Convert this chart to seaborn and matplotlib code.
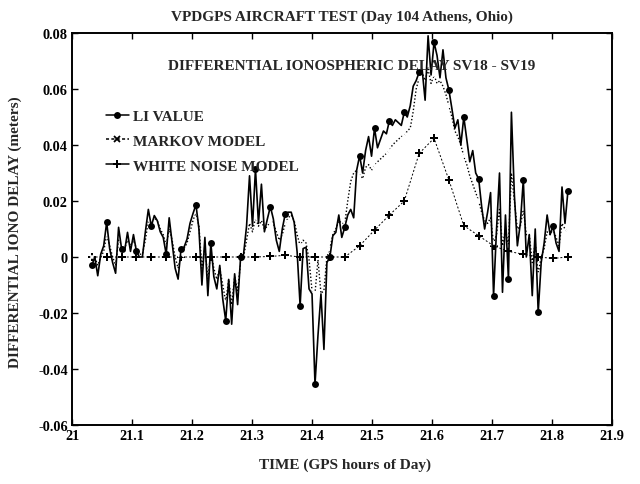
import numpy as np
import pandas as pd
import matplotlib
matplotlib.use("Agg")
import matplotlib.pyplot as plt
from matplotlib.lines import Line2D
import seaborn as sns

# Sampling of the series (GPS hours of day); a marker sits on every 5th sample
t_start = 21.033
t_step = 0.00496
marker_step = 5

# L1 differential ionospheric delay (meters)
li_value = [
    -0.003, 0.0, -0.0067, 0.001, 0.004, 0.0124, 0.003, -0.002, -0.0058, 0.0106,
    0.003, 0.002, 0.0088, 0.002, 0.008, 0.002, 0.0, 0.0, 0.009, 0.017,
    0.011, 0.0148, 0.013, 0.009, 0.007, 0.001, 0.014, 0.005, -0.004, -0.0079,
    0.003, 0.0035, 0.0064, 0.012, 0.0155, 0.0187, 0.010, -0.010, 0.007, -0.0138,
    0.005, -0.007, -0.0114, -0.003, -0.015, -0.0227, -0.008, -0.024, -0.006, -0.017,
    0.0, 0.001, 0.011, 0.029, 0.011, 0.0314, 0.012, 0.026, 0.009, 0.0136,
    0.018, 0.0136, 0.006, 0.002, 0.010, 0.0154, 0.016, 0.016, 0.0124, 0.0017,
    -0.0174, 0.003, 0.0035, -0.0114, -0.0132, -0.0454, -0.028, -0.0132, -0.033, -0.002,
    0.0, 0.0076, 0.0088, 0.015, 0.007, 0.0106, 0.015, 0.017, 0.014, 0.031,
    0.0362, 0.030, 0.038, 0.043, 0.036, 0.046, 0.039, 0.042, 0.045, 0.044,
    0.0487, 0.047, 0.049, 0.048, 0.047, 0.0517, 0.050, 0.054, 0.061, 0.063,
    0.066, 0.067, 0.056, 0.079, 0.065, 0.0767, 0.072, 0.064, 0.074, 0.064,
    0.0596, 0.053, 0.046, 0.049, 0.040, 0.050, 0.042, 0.034, 0.038, 0.030,
    0.0279, 0.018, 0.010, 0.016, 0.023, -0.0138, 0.010, 0.030, -0.0126, 0.015,
    -0.008, 0.0517, 0.022, 0.004, 0.012, 0.0276, 0.0, 0.008, -0.0138, 0.010,
    -0.0198, -0.002, 0.005, 0.015, 0.008, 0.011, 0.005, 0.002, 0.025, 0.012,
    0.0237,
]

# Markov (first-order Gauss-Markov) model estimate (meters)
markov_model = [
    0.0, 0.0, -0.003, 0.0, 0.002, 0.008, 0.004, 0.0, -0.003, 0.006,
    0.004, 0.003, 0.006, 0.004, 0.006, 0.003, 0.001, 0.001, 0.006, 0.013,
    0.012, 0.014, 0.013, 0.010, 0.008, 0.004, 0.010, 0.006, 0.0, -0.004,
    0.001, 0.003, 0.005, 0.009, 0.013, 0.016, 0.011, -0.004, 0.004, -0.008,
    0.002, -0.004, -0.008, -0.004, -0.010, -0.016, -0.008, -0.017, -0.007, -0.012,
    -0.002, 0.0, 0.006, 0.012, 0.009, 0.014, 0.011, 0.013, 0.010, 0.011,
    0.013, 0.012, 0.009, 0.006, 0.008, 0.012, 0.014, 0.015, 0.013, 0.008,
    0.004, 0.006, 0.005, -0.001, -0.012, -0.013, -0.001, -0.013, -0.012, 0.0,
    0.003, 0.008, 0.010, 0.013, 0.012, 0.012, 0.020, 0.027, 0.030, 0.031,
    0.030, 0.028, 0.032, 0.033, 0.031, 0.0326, 0.034, 0.035, 0.036, 0.037,
    0.038, 0.040, 0.041, 0.042, 0.043, 0.0433, 0.045, 0.046, 0.052, 0.060,
    0.064, 0.066, 0.063, 0.067, 0.062, 0.065, 0.062, 0.063, 0.061, 0.058,
    0.054, 0.050, 0.045, 0.043, 0.040, 0.036, 0.033, 0.029, 0.026, 0.023,
    0.020, 0.016, 0.013, 0.012, 0.014, 0.005, 0.008, 0.017, 0.004, 0.010,
    0.004, 0.030, 0.020, 0.010, 0.011, 0.017, 0.008, 0.008, -0.002, 0.005,
    -0.006, 0.0, 0.003, 0.009, 0.008, 0.010, 0.007, 0.004, 0.012, 0.010,
    0.0088,
]

# White noise model estimate (meters), one value per marker sample
white_noise_model = [
    0.0, 0.0, 0.0, 0.0, 0.0, 0.0, 0.0, 0.0, 0.0, 0.0,
    0.0, 0.0, 0.0002, 0.0006, 0.0, 0.0, 0.0, 0.0, 0.004, 0.0096,
    0.015, 0.020, 0.037, 0.0424, 0.0275, 0.0112, 0.0076, 0.004, 0.002, 0.001,
    0.0, -0.0005, 0.0,
]

x_ticks = [21.0, 21.1, 21.2, 21.3, 21.4, 21.5, 21.6, 21.7, 21.8, 21.9]
x_tick_labels = ["21", "21.1", "21.2", "21.3", "21.4", "21.5", "21.6", "21.7", "21.8", "21.9"]
y_ticks = [-0.06, -0.04, -0.02, 0.0, 0.02, 0.04, 0.06, 0.08]
y_tick_labels = ["-0.06", "-0.04", "-0.02", "0", "0.02", "0.04", "0.06", "0.08"]

sns.set_theme(style="ticks")
plt.rcParams["font.family"] = ["Liberation Serif", "DejaVu Serif"]
plt.rcParams["font.weight"] = "bold"
plt.rcParams["axes.labelweight"] = "bold"

time = t_start + t_step * np.arange(len(li_value))
fine = pd.DataFrame({"time": time, "li": li_value, "markov": markov_model})
coarse = pd.DataFrame({"time": time[::marker_step], "white": white_noise_model})

fig = plt.figure(figsize=(6.4, 4.85), dpi=100)
ax = fig.add_axes([72 / 640, 1 - 426 / 485, 540 / 640, 392 / 485])

sns.lineplot(data=coarse, x="time", y="white", ax=ax, color="black", lw=0.7,
             linestyle=(0, (2, 2)), marker="P", markersize=5.5, markeredgewidth=0,
             estimator=None, sort=False)
sns.lineplot(data=fine, x="time", y="markov", ax=ax, color="black", lw=1.0,
             linestyle=(0, (1, 1.5)), marker="x", markersize=4, markeredgewidth=1.3,
             markevery=marker_step, estimator=None, sort=False)
sns.lineplot(data=fine, x="time", y="li", ax=ax, color="black", lw=1.2,
             marker="o", markersize=5, markeredgewidth=0,
             markevery=marker_step, estimator=None, sort=False)

ax.set_xlim(21.0, 21.9)
ax.set_ylim(-0.06, 0.08)
ax.set_xticks(x_ticks)
ax.set_xticklabels(x_tick_labels)
ax.set_yticks(y_ticks)
ax.set_yticklabels(y_tick_labels)
ax.tick_params(direction="in", length=4, width=1, top=True, right=True,
               labelsize=10.3, pad=3, colors="black")
for s in ax.spines.values():
    s.set_linewidth(1.4)
    s.set_color("black")
ax.set_xlabel("")
ax.set_ylabel("")

handles = [
    Line2D([], [], color="black", lw=1.1, marker="o", markersize=5, markeredgewidth=0),
    Line2D([], [], color="black", lw=1.1, linestyle=(0, (2, 1.5)), marker="x",
           markersize=4, markeredgewidth=1.3),
    Line2D([], [], color="black", lw=1.1, marker="P", markersize=5.5, markeredgewidth=0),
]
ax.legend(handles, ["LI VALUE", "MARKOV MODEL", "WHITE NOISE MODEL"],
          loc="upper left", bbox_to_anchor=(0.063, 0.805), frameon=False,
          handlelength=1.5, handletextpad=0.25, labelspacing=0.72, fontsize=11,
          borderaxespad=0, borderpad=0)

ax.text(0.857, 0.916, "DIFFERENTIAL IONOSPHERIC DELAY SV18 - SV19",
        transform=ax.transAxes, ha="right", va="center", fontsize=11, fontweight="bold")
fig.text(342 / 640, 1 - 17 / 485, "VPDGPS AIRCRAFT TEST (Day 104 Athens, Ohio)",
         ha="center", va="center", fontsize=11, fontweight="bold")
fig.text(345 / 640, 1 - 465 / 485, "TIME (GPS hours of Day)",
         ha="center", va="center", fontsize=11, fontweight="bold")
fig.text(15 / 640, 1 - 232 / 485, "DIFFERENTIAL IONO DELAY (meters)",
         ha="center", va="center", rotation=90, fontsize=11, fontweight="bold")

fig.savefig("out.png", dpi=100)
